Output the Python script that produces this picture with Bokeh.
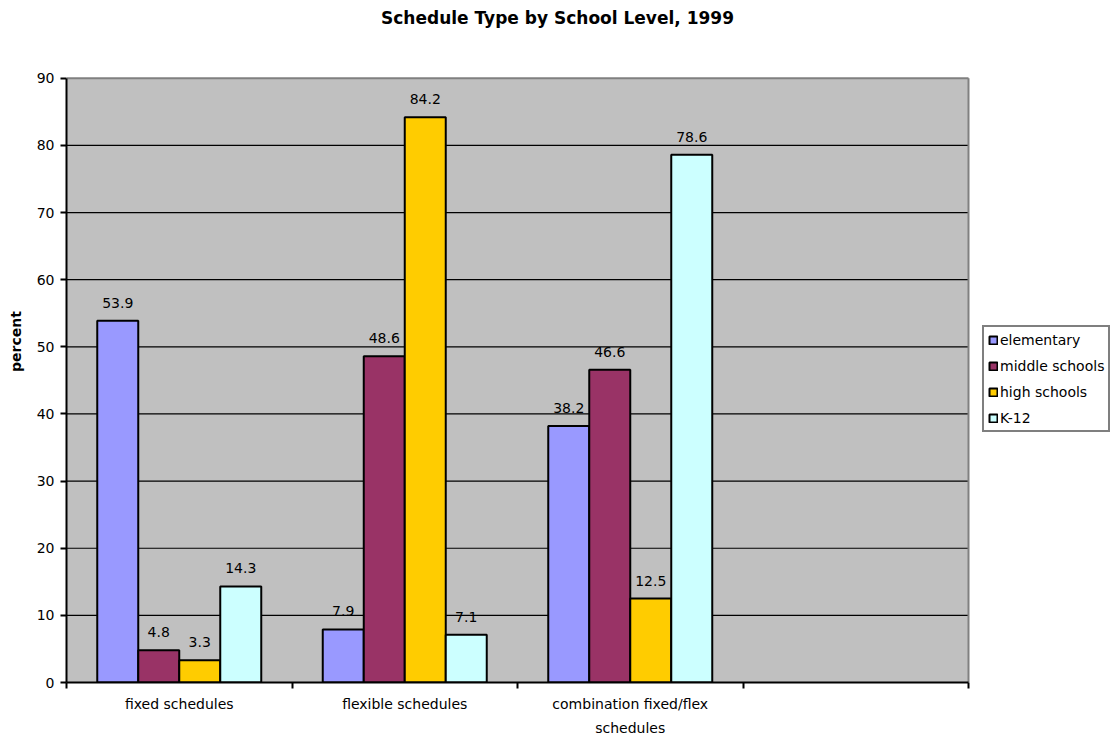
from bokeh.plotting import figure
from bokeh.models import (BoxAnnotation, ColumnDataSource, FixedTicker, Label,
                          Legend, LegendItem, Range1d)
from bokeh.core.properties import value
from bokeh.embed import file_html
from bokeh.resources import INLINE

# Schedule categories (the fourth slot is left empty on the axis)
categories = ["fixed schedules", "flexible schedules",
              "combination fixed/flex\nschedules", ""]
series_names = ["elementary", "middle schools", "high schools", "K-12"]
elementary = [53.9, 7.9, 38.2]
middle_schools = [4.8, 48.6, 46.6]
high_schools = [3.3, 84.2, 12.5]
k12 = [14.3, 7.1, 78.6]
y_ticks = [0, 10, 20, 30, 40, 50, 60, 70, 80, 90]
chart_title = "Schedule Type by School Level, 1999"

series_values = [elementary, middle_schools, high_schools, k12]
colors = ["#9999FF", "#993366", "#FFCC00", "#CCFFFF"]

FONT = "DejaVu Sans"
bar_w = 1 / 5.5
offsets = [-1.5 * bar_w, -0.5 * bar_w, 0.5 * bar_w, 1.5 * bar_w]
slot_centers = [0.5, 1.5, 2.5, 3.5]
n_slots = len(categories)
y_max = y_ticks[-1]

# The frame fills the canvas to the right and top edges so that the legend and
# the title can sit around the gray plot area (902 x 606 px, top edge at 78 px).
W, H = 1114, 738
LEFT, BOTTOM = 66, 54
AREA_W, AREA_H, AREA_TOP = 902, 606, 78
TITLE_Y = 18
x_end = n_slots * (W - LEFT) / AREA_W
y_end = y_max * (H - BOTTOM) / AREA_H

p = figure(width=W, height=H, output_backend="svg", toolbar_location=None,
           x_range=Range1d(0, x_end), y_range=Range1d(0, y_end),
           min_border_left=LEFT, min_border_right=0,
           min_border_top=0, min_border_bottom=BOTTOM)
p.background_fill_color = "white"
p.border_fill_color = "white"
p.outline_line_color = None

p.add_layout(BoxAnnotation(left=0, right=n_slots, bottom=0, top=y_max,
                           fill_color="#C0C0C0", fill_alpha=1,
                           line_color=None, level="underlay"))

# Title, centred on the canvas
title_x = (W / 2 - LEFT) / AREA_W * n_slots
title_y = y_max + (AREA_TOP - TITLE_Y) / AREA_H * y_max
p.add_layout(Label(x=title_x, y=title_y, text=chart_title,
                   text_align="center", text_baseline="middle",
                   text_font=FONT, text_font_size="17px",
                   text_font_style="bold", text_color="black"))

# Horizontal gridlines across the plot area
grid_y = y_ticks[1:-1]
p.segment(x0=[0] * len(grid_y), y0=grid_y, x1=[n_slots] * len(grid_y), y1=grid_y,
          line_color="black", line_width=1.2)

# Gray edges on top and right of the plot area
p.segment(x0=[0, n_slots], y0=[y_max, 0], x1=[n_slots, n_slots], y1=[y_max, y_max],
          line_color="#808080", line_width=2)

renderers = []
sources = []
for name, vals, off, col in zip(series_names, series_values, offsets, colors):
    xs = [i + 0.5 + off for i in range(len(vals))]
    src = ColumnDataSource(dict(x=xs, top=vals, lbl=[f"{v:.1f}" for v in vals]))
    r = p.vbar(x="x", top="top", width=bar_w, bottom=0, source=src,
               fill_color=col, line_color="black", line_width=2)
    renderers.append((name, r))
    sources.append(src)

# Value labels above each bar
for src in sources:
    p.text(x="x", y="top", text="lbl", source=src, text_align="center",
           text_baseline="middle", y_offset=-18, text_font=value(FONT),
           text_font_size="14px", text_color="black")

# x axis: category labels in the middle of each slot, tick marks at slot edges
xa = p.xaxis[0]
xa.bounds = (0, n_slots)
xa.ticker = FixedTicker(ticks=slot_centers, minor_ticks=list(range(n_slots + 1)))
xa.major_label_overrides = dict(zip(slot_centers, categories))
xa.major_tick_out = 0
xa.major_tick_in = 0
xa.minor_tick_out = 6
xa.minor_tick_in = 0
xa.minor_tick_line_color = "black"
xa.minor_tick_line_width = 2
xa.axis_line_color = "black"
xa.axis_line_width = 2
xa.major_label_text_font = FONT
xa.major_label_text_font_size = "14px"
xa.major_label_text_line_height = 1.5
xa.major_label_text_color = "black"
xa.major_label_standoff = 7

p.xgrid.grid_line_color = None
p.ygrid.grid_line_color = None

ya = p.yaxis[0]
ya.bounds = (0, y_max)
ya.ticker = FixedTicker(ticks=y_ticks)
ya.minor_tick_line_color = None
ya.major_tick_out = 6
ya.major_tick_in = 0
ya.major_tick_line_color = "black"
ya.major_tick_line_width = 2
ya.axis_line_color = "black"
ya.axis_line_width = 2
ya.major_label_text_font = FONT
ya.major_label_text_font_size = "14px"
ya.major_label_text_color = "black"
ya.major_label_standoff = 6
ya.axis_label = "percent"
ya.axis_label_text_font = FONT
ya.axis_label_text_font_size = "14px"
ya.axis_label_text_font_style = "bold"
ya.axis_label_text_color = "black"
ya.axis_label_text_align = "right"
ya.axis_label_standoff = 10

legend = Legend(items=[LegendItem(label=n, renderers=[r]) for n, r in renderers],
                location=(916, 250), orientation="vertical",
                label_text_font=FONT, label_text_font_size="14px",
                label_text_color="black",
                glyph_width=10, glyph_height=10, label_standoff=2,
                label_height=17, spacing=9, padding=4, margin=0,
                border_line_color="black", border_line_width=2,
                background_fill_color="white", background_fill_alpha=1)
p.add_layout(legend, "center")

open("out.html", "w").write(file_html(p, INLINE))
